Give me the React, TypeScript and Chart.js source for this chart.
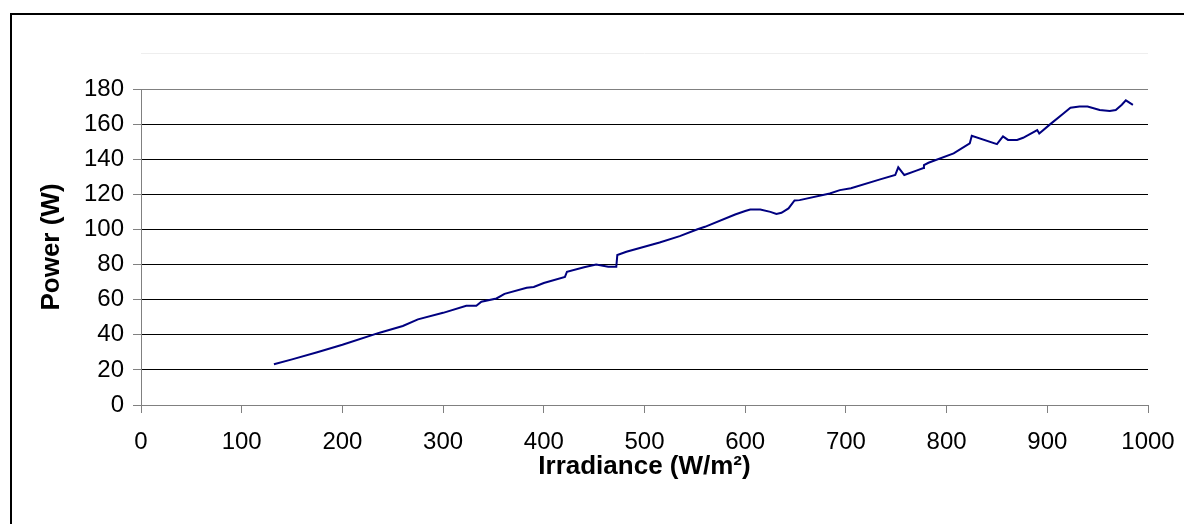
import React, { useEffect, useRef } from "react";
import { Chart, registerables } from "chart.js";

Chart.register(...registerables);

const irradiance: number[] = [
  132, 150, 175, 200, 237, 260, 275, 300, 323, 333, 338, 353, 361, 383, 390, 400,
  421, 423, 440, 452, 464, 472, 473, 482, 515, 535, 552, 560, 590, 600, 605, 615,
  625, 631, 636, 643, 649, 654, 684, 694, 705, 734, 749, 752, 758, 770, 777, 777.5,
  782, 807, 823, 825, 850, 856, 861, 870, 876, 890, 892, 903, 916, 923, 932, 940,
  952, 962, 968, 974, 978, 985,
];
const power: number[] = [
  23.2, 26, 30, 34.3, 41.2, 45, 48.8, 52.5, 56.5, 56.5, 58.8, 60.7, 63.3, 66.8, 67.2, 69.5,
  73, 75.9, 78.5, 80, 78.8, 78.8, 85.4, 87.3, 92.6, 96.2, 100, 101.5, 108.5, 110.5, 111.4, 111.4,
  110, 108.8, 109.5, 112, 116.5, 116.7, 120.5, 122.4, 123.5, 128.5, 131, 135.4, 131, 133.5, 135, 136.7,
  138, 143.3, 149, 153.4, 148.6, 153, 151, 151, 152.2, 156.6, 154.7, 160, 166, 169.3, 170, 170,
  168, 167.5, 168, 171, 173.5, 171,
];
const xTitle = "Irradiance (W/m²)";
const yTitle = "Power (W)";

const FONT = "'Liberation Sans', Arial, sans-serif";

const framePlugin = {
  id: "frame",
  beforeDraw(chart: any) {
    const ctx = chart.ctx;
    ctx.save();
    ctx.fillStyle = "#ffffff";
    ctx.fillRect(0, 0, chart.width, chart.height);
    ctx.strokeStyle = "#000000";
    ctx.lineWidth = 2;
    ctx.strokeRect(11, 14, chart.width + 20, chart.height + 20);
    const a = chart.chartArea;
    ctx.strokeStyle = "#eeeeee";
    ctx.lineWidth = 1;
    ctx.beginPath();
    ctx.moveTo(a.left, 53.5);
    ctx.lineTo(a.right, 53.5);
    ctx.stroke();
    ctx.restore();
  },
};

export default function App() {
  const ref = useRef<HTMLCanvasElement | null>(null);
  useEffect(() => {
    if (!ref.current) return;
    const chart = new Chart(ref.current, {
      type: "line",
      data: {
        datasets: [
          {
            data: irradiance.map((x, i) => ({ x, y: power[i] })),
            borderColor: "#000080",
            borderWidth: 2,
            pointRadius: 0,
            tension: 0,
            fill: false,
          },
        ],
      },
      options: {
        animation: false,
        responsive: false,
        devicePixelRatio: 1,
        layout: { padding: { top: 89, right: 36, bottom: 0, left: 0 } },
        plugins: { legend: { display: false }, tooltip: { enabled: false } },
        scales: {
          x: {
            type: "linear",
            min: 0,
            max: 1000,
            ticks: {
              stepSize: 100,
              color: "#000",
              padding: 15,
              font: { family: FONT, size: 24 },
              maxRotation: 0,
              callback: (v: any) => String(v),
            },
            grid: {
              drawOnChartArea: false,
              drawTicks: true,
              tickLength: 8,
              tickColor: "#808080",
            },
            border: { color: "#808080", width: 1 },
            title: {
              display: true,
              text: xTitle,
              color: "#000",
              font: { family: FONT, size: 26, weight: "bold" },
              padding: { top: 0, bottom: 42 },
            },
            afterFit: (s: any) => {
              s.height = 119;
              s.paddingLeft = 0;
              s.paddingRight = 0;
            },
          },
          y: {
            type: "linear",
            min: 0,
            max: 180,
            ticks: {
              stepSize: 20,
              color: "#000",
              padding: 9,
              font: { family: FONT, size: 24 },
              callback: (v: any) => String(v),
            },
            grid: {
              color: (c: any) => (c.tick && c.tick.value === 180 ? "#808080" : "#000000"),
              tickLength: 8,
              tickColor: "#808080",
            },
            border: { color: "#808080", width: 1 },
            title: {
              display: true,
              text: yTitle,
              color: "#000",
              font: { family: FONT, size: 26, weight: "bold" },
              padding: { top: 36, bottom: 0 },
            },
            afterFit: (s: any) => {
              s.width = 141;
              s.paddingTop = 0;
              s.paddingBottom = 0;
            },
          },
        },
      } as any,
      plugins: [framePlugin],
    });
    return () => chart.destroy();
  }, []);
  return (
    <div style={{ position: "absolute", left: 0, top: 0, width: 1184, height: 524 }}>
      <canvas ref={ref} width={1184} height={524} style={{ display: "block" }} />
    </div>
  );
}
